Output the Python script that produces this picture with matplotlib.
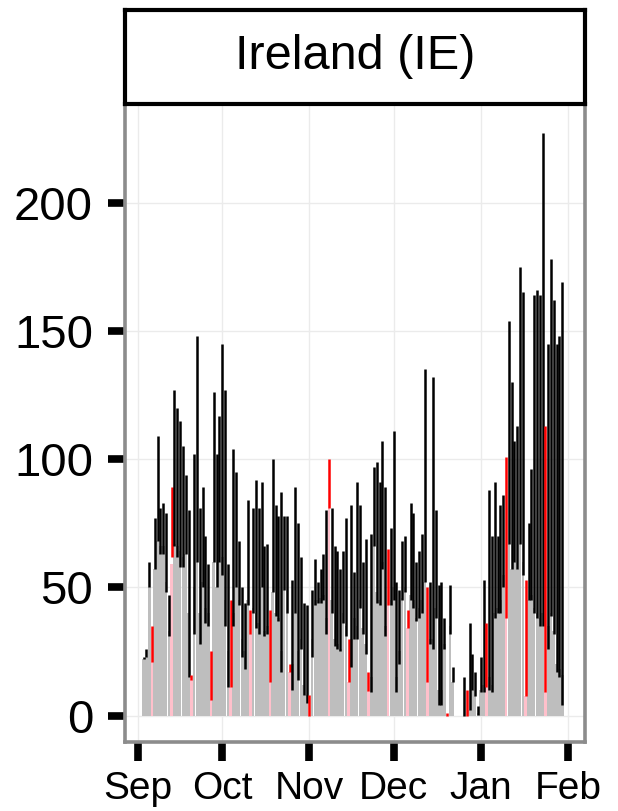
import matplotlib
matplotlib.use("Agg")
import matplotlib.pyplot as plt
import matplotlib.dates as mdates
import numpy as np
import pandas as pd

plt.rcParams['font.family'] = ['Liberation Sans', 'DejaVu Sans']

# ---- data (daily, starting 2020-09-03) ----
start_date = "2020-09-03"
bar_values = [22, 23, 50, 21, 57, 68, 66, 66, 52, 33, 59, 67, 66, 64, 62, 63, 40, 14,
              50, 60, 40, 52, 42, 40, 6, 60, 50, 60, 62, 45, 25, 11, 40, 50, 45, 30,
              25, 45, 32, 42, 40, 36, 50, 33, 35, 13, 48, 40, 38, 25, 49, 40, 17, 20,
              40, 25, 30, 12, 8, 0, 30, 45, 45, 46, 47, 38, 81, 45, 30, 28, 26, 40,
              35, 13, 30, 38, 35, 45, 34, 28, 9.5, 15, 66, 48, 45, 60, 35, 43, 45, 50,
              15, 25, 46, 50, 34, 47, 45, 38, 42, 45, 52, 13, 30, 30, 42, 10, 10, 28,
              0, 35, 13, 0, 0, 0, 0, 0, 2, 10, 7.5, 1, 10, 12, 11, 15, 12, 40, 42, 45,
              55, 38, 67, 57, 60, 57, 67, 60, 7.5, 45, 47, 42, 40, 38, 40, 9, 35, 40,
              33, 20, 18, 16]
low_values = [22, 23, 50, 21, 57, 68, 63, 63, 48, 31, 62, 66, 62, 58, 58, 63, 15, 14,
              32, 60, 28, 50, 36, 35, 6, 60, 50, 60, 55, 35, 11, 11, 35, 50, 43, 23,
              18, 43, 32, 40, 34, 32, 50, 31, 32, 13, 48, 39, 37, 17, 49, 40, 17, 10,
              40, 14, 26, 8, 5, 0, 23, 43, 44, 44, 45, 32, 81, 40, 27, 26, 25, 36,
              31, 13, 19, 30, 30, 42, 32, 24, 9.5, 9, 66, 44, 43, 57, 31, 43, 43, 45,
              9, 20, 45, 48, 34, 45, 42, 37, 38, 40, 52, 13, 28, 26, 38, 4, 4, 26,
              0, 32, 13, 0, 0, 0, 0, 0, 2, 10, 7.5, 0.4, 9, 9, 11, 10, 9, 38, 40, 40,
              50, 38, 67, 57, 60, 57, 67, 55, 7.5, 45, 45, 40, 38, 35, 35, 9, 26, 39,
              32, 17, 15, 4]
high_values = [23, 26, 60, 35, 77, 109, 81, 83, 79, 47, 89, 127, 120, 115, 105, 94, 80, 16,
               102, 148, 81, 89, 70, 59, 25, 126, 102, 117, 145, 127, 59, 45, 104, 95, 68, 50,
               44, 84, 41, 81, 92, 81, 91, 66, 67, 41, 100, 82, 78, 87, 78, 78, 20, 53,
               89, 75, 62, 44, 43, 8, 49, 61, 52, 57, 63, 80, 100, 81, 66, 64, 57, 64,
               77, 30, 82, 56, 91, 82, 60, 69, 17, 71, 97, 99, 91, 107, 89, 65, 73, 111,
               52, 49, 68, 70, 41, 83, 79, 60, 64, 71, 135, 50, 52, 132, 80, 51, 52, 38,
               1, 51, 19, 0, 0, 0, 15, 10, 36, 24, 17, 3.6, 23, 53, 36, 88, 70, 91, 70, 82,
               86, 101, 154, 130, 107, 113, 175, 165, 53, 75, 96, 164, 166, 164, 227, 113, 145, 178,
               162, 145, 148, 169]
month_ticks = ["2020-09-01", "2020-10-01", "2020-11-01", "2020-12-01", "2021-01-01", "2021-02-01"]
month_labels = ["Sep", "Oct", "Nov", "Dec", "Jan", "Feb"]
y_ticks = [0, 50, 100, 150, 200]
panel_title = "Ireland (IE)"

dates = pd.date_range(start_date, periods=len(bar_values), freq="D")
is_sunday = dates.dayofweek == 6
bar_colors = np.where(is_sunday, "#FFC0CB", "#BEBEBE")
line_colors = np.where(is_sunday, "#FF0000", "#000000")

fig = plt.figure(figsize=(6.18, 8.11), dpi=100)
ax = fig.add_axes([0.2023, 0.0851, 0.7443, 0.7867])

xnum = mdates.date2num(dates)
ax.bar(xnum, bar_values, width=0.95, color=bar_colors, linewidth=0, zorder=2)
lc = ax.vlines(xnum, low_values, high_values, colors=line_colors, linewidth=1.8, zorder=3)
lc.set_capstyle("butt")

x0 = mdates.date2num(pd.Timestamp("2020-09-01"))
ax.set_xlim(x0 - 4.6, x0 + 159.1)
ax.set_ylim(-10.3, 238.5)

ax.set_xticks(mdates.date2num(pd.to_datetime(month_ticks)))
ax.set_xticklabels(month_labels, fontsize=28)
ax.set_yticks(y_ticks)
ax.set_yticklabels([str(v) for v in y_ticks], fontsize=34)

ax.grid(True, color="#EBEBEB", linewidth=1.0, zorder=0)
ax.set_axisbelow(True)
for s in ax.spines.values():
    s.set_color("#8C8C8C")
    s.set_linewidth(2.6)
ax.tick_params(axis="y", length=12, width=5.5, color="black", pad=11)
ax.tick_params(axis="x", length=14, width=5.5, color="black", pad=7)

# facet strip
sax = fig.add_axes([0.2023, 0.8718, 0.7443, 0.1159])
sax.set_facecolor("white")
sax.set_xticks([])
sax.set_yticks([])
for s in sax.spines.values():
    s.set_color("black")
    s.set_linewidth(3)
sax.text(0.5, 0.5, panel_title, ha="center", va="center", fontsize=35,
         transform=sax.transAxes)

fig.savefig("out.png", dpi=100)
